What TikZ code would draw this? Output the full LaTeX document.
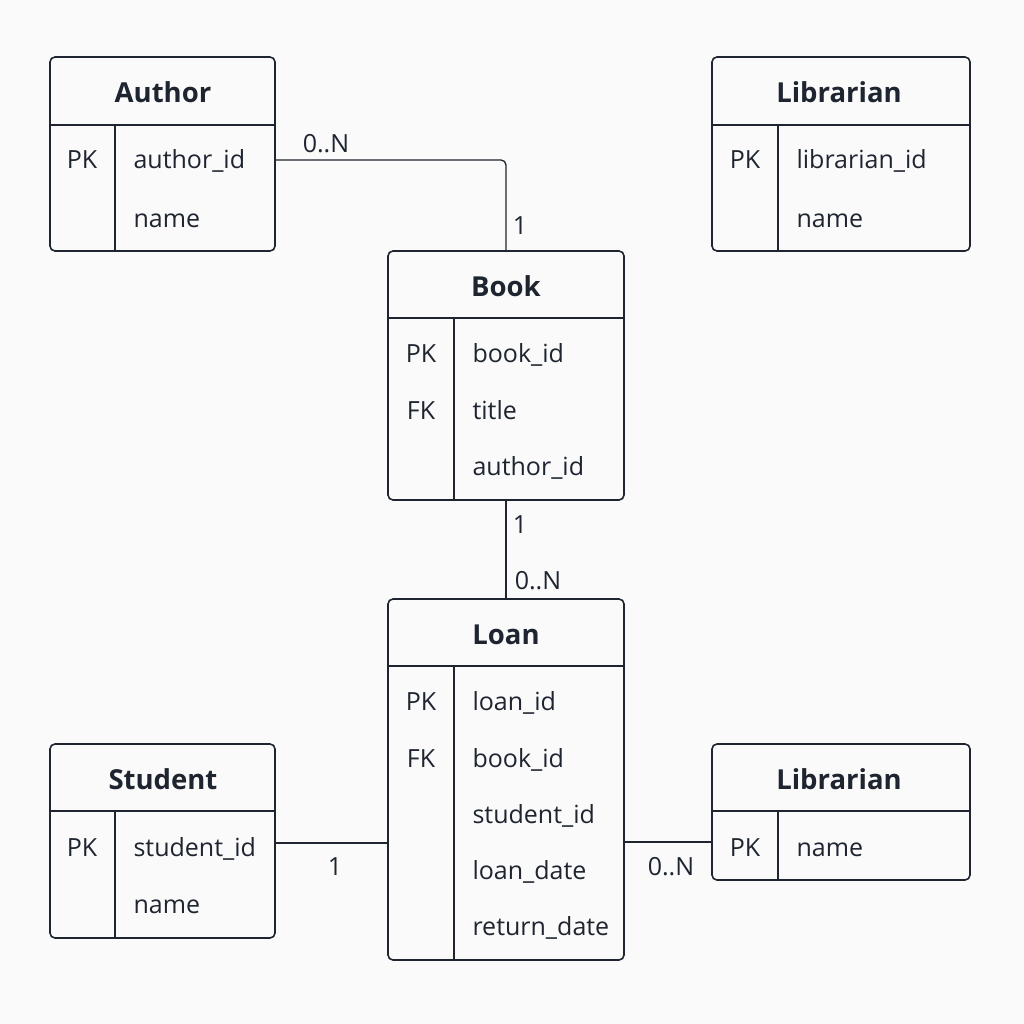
\documentclass[tikz,border=0pt]{standalone}
\usepackage{fontspec}
\setmainfont{Open Sans}
\usepackage{tikz}
\definecolor{ink}{HTML}{1E2530}
\definecolor{paper}{HTML}{FAFAFA}
\newcommand{\hdfont}{\fontsize{27.5}{32}\selectfont\bfseries}
\newcommand{\fdfont}{\fontsize{25}{28}\selectfont}

\begin{document}
\begin{tikzpicture}[x=1pt, y=-1pt,
    entity/.style={draw=ink, line width=1.6pt, rounded corners=5pt, inner sep=0pt},
    title/.style={text=ink, font=\hdfont, anchor=base},
    key/.style={text=ink, font=\fdfont, anchor=base},
    field/.style={text=ink, font=\fdfont, anchor=base west},
    card/.style={text=ink, font=\fdfont, anchor=base},
    rel/.style={draw=ink, line width=1.3pt}]

    \fill[paper] (0, 0) rectangle (1024, 1024);
    \useasboundingbox (0, 0) rectangle (1024, 1024);

    % boites
    \node[entity, minimum width=225pt, minimum height=194pt] (author) at (162.5, 154) {};
    \node[entity, minimum width=258pt, minimum height=194pt] (libtop) at (841, 154) {};
    \node[entity, minimum width=236pt, minimum height=249pt] (book) at (506, 375.5) {};
    \node[entity, minimum width=236pt, minimum height=361pt] (loan) at (506, 779.5) {};
    \node[entity, minimum width=225pt, minimum height=194pt] (student) at (162.5, 841) {};
    \node[entity, minimum width=258pt, minimum height=136pt] (libbot) at (841, 812) {};

    % entetes
    \draw[ink, line width=1.6pt] (50, 125) -- (275, 125);
    \draw[ink, line width=1.6pt] (712, 125) -- (970, 125);
    \draw[ink, line width=1.6pt] (388, 318) -- (624, 318);
    \draw[ink, line width=1.6pt] (388, 666) -- (624, 666);
    \draw[ink, line width=1.6pt] (50, 811) -- (275, 811);
    \draw[ink, line width=1.6pt] (712, 811) -- (970, 811);

    % colonnes
    \draw[ink, line width=1.6pt] (115, 125) -- (115, 251);
    \draw[ink, line width=1.6pt] (778, 125) -- (778, 251);
    \draw[ink, line width=1.6pt] (454, 318) -- (454, 500);
    \draw[ink, line width=1.6pt] (454, 666) -- (454, 960);
    \draw[ink, line width=1.6pt] (115, 811) -- (115, 938);
    \draw[ink, line width=1.6pt] (778, 811) -- (778, 880);

    % Author
    \node[title] (tauthor) at (163, 103) {Author};
    \node[key] (kauthor) at (82, 169) {PK};
    \node[field] (a1) at (130, 169) {author\_id};
    \node[field] (a2) at (130, 227) {name};

    % Librarian
    \node[title] (tlibtop) at (839, 103) {Librarian};
    \node[key] (klibtop) at (745, 169) {PK};
    \node[field] (l1) at (793, 169) {librarian\_id};
    \node[field] (l2) at (793, 227) {name};

    % Book
    \node[title] (tbook) at (506, 296) {Book};
    \node[key] (kbook1) at (421, 362) {PK};
    \node[key] (kbook2) at (421, 419) {FK};
    \node[field] (b1) at (469, 362) {book\_id};
    \node[field] (b2) at (469, 419) {title};
    \node[field] (b3) at (469, 475) {author\_id};

    % Loan
    \node[title] (tloan) at (506, 644) {Loan};
    \node[key] (kloan1) at (421, 710) {PK};
    \node[key] (kloan2) at (421, 767) {FK};
    \node[field] (n1) at (469, 710) {loan\_id};
    \node[field] (n2) at (469, 767) {book\_id};
    \node[field] (n3) at (469, 823) {student\_id};
    \node[field] (n4) at (469, 879) {loan\_date};
    \node[field] (n5) at (469, 935) {return\_date};

    % Student
    \node[title] (tstudent) at (163, 789) {Student};
    \node[key] (kstudent) at (82, 856) {PK};
    \node[field] (s1) at (130, 856) {student\_id};
    \node[field] (s2) at (130, 913) {name};

    % Librarian (bas)
    \node[title] (tlibbot) at (839, 789) {Librarian};
    \node[key] (klibbot) at (745, 856) {PK};
    \node[field] (m1) at (793, 856) {name};

    % liens
    \draw[rel, rounded corners=5pt] (author.east |- 0, 160) -| (book.north);
    \draw[rel] (book.south) -- (loan.north);
    \draw[rel] (student.east |- 0, 843) -- (loan.west |- 0, 843);
    \draw[rel] (loan.east |- 0, 842) -- (libbot.west |- 0, 842);

    % cardinalites
    \node[card] (c1) at (326, 153) {0..N};
    \node[card] (c2) at (520, 234) {1};
    \node[card] (c3) at (520, 533) {1};
    \node[card] (c4) at (538, 589) {0..N};
    \node[card] (c5) at (335, 875) {1};
    \node[card] (c6) at (671, 875) {0..N};

  \end{tikzpicture}
\end{document}
